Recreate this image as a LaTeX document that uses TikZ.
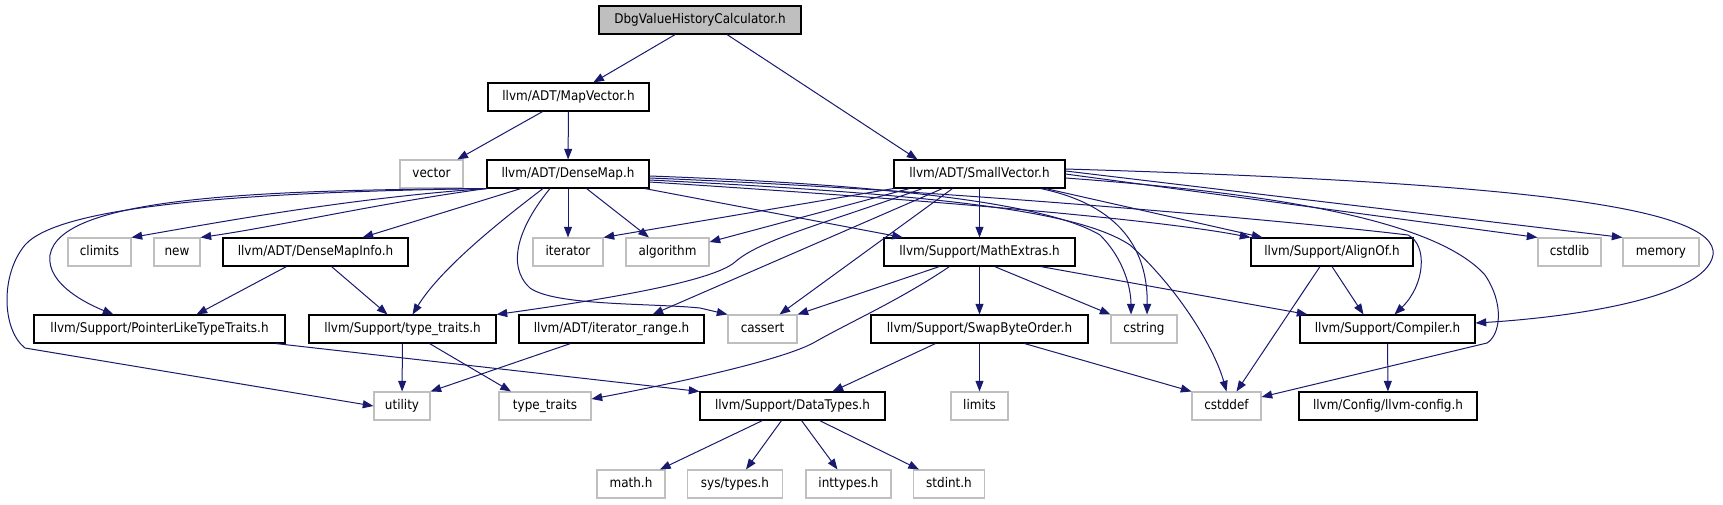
\documentclass[tikz,border=0pt]{standalone}
\usepackage{fontspec}
\setmainfont{DejaVu Sans}
\newfontfamily\graphfont[FakeStretch=0.9]{DejaVu Sans}
\usetikzlibrary{arrows.meta,calc}
\definecolor{edgeblue}{HTML}{191970}
\definecolor{boxgray}{HTML}{BFBFBF}
\tikzset{
  hdr/.style={draw=black, line width=0.8pt, fill=white, rectangle, inner sep=0pt,
    minimum height=21pt, text height=7.5pt, text depth=2.2pt,
    font=\graphfont\fontsize{10}{12}\selectfont},
  sys/.style={hdr, draw=boxgray},
  wd/.style={minimum width=#1*0.75pt},
  inc/.style={edgeblue, line width=0.75pt, -{Triangle[length=8pt,width=6pt]}},
}
\begin{document}
\begin{tikzpicture}[x=0.75pt, y=-0.75pt]
    \fill[white] (0,0) rectangle (1723,504);
    \useasboundingbox (0,0) rectangle (1723,504);

    % Headers, row by row
    \node[hdr, wd=202, fill=boxgray] (dbg) at (700,20) {DbgValueHistoryCalculator.h};
    \node[hdr, wd=161] (mapvec) at (568.5,97) {llvm/ADT/MapVector.h};
    \node[sys, wd=63]  (vector) at (431.5,174) {vector};
    \node[hdr, wd=162] (densemap) at (568,174) {llvm/ADT/DenseMap.h};
    \node[hdr, wd=171] (smallvec) at (979.5,174) {llvm/ADT/SmallVector.h};

    \node[sys, wd=63]  (climits) at (99.5,252) {climits};
    \node[sys, wd=46]  (new) at (177,252) {new};
    \node[hdr, wd=185] (dmapinfo) at (315.5,252) {llvm/ADT/DenseMapInfo.h};
    \node[sys, wd=70]  (iterator) at (568,252) {iterator};
    \node[sys, wd=83]  (algorithm) at (667.5,252) {algorithm};
    \node[hdr, wd=191] (mathext) at (979.5,252) {llvm/Support/MathExtras.h};
    \node[hdr, wd=162] (alignof) at (1332,252) {llvm/Support/AlignOf.h};
    \node[sys, wd=63]  (cstdlib) at (1569.5,252) {cstdlib};
    \node[sys, wd=76]  (memory) at (1661,252) {memory};

    \node[hdr, wd=251] (ptrlike) at (159.5,329) {llvm/Support/PointerLikeTypeTraits.h};
    \node[hdr, wd=187] (typetr) at (402.5,329) {llvm/Support/type\_traits.h};
    \node[hdr, wd=185] (itrange) at (611.5,329) {llvm/ADT/iterator\_range.h};
    \node[sys, wd=69]  (cassert) at (762.5,329) {cassert};
    \node[hdr, wd=217] (swapbyte) at (979.5,329) {llvm/Support/SwapByteOrder.h};
    \node[sys, wd=66]  (cstring) at (1144,329) {cstring};
    \node[hdr, wd=175] (compiler) at (1387.5,329) {llvm/Support/Compiler.h};

    \node[sys, wd=56]  (utility) at (402,406) {utility};
    \node[sys, wd=92]  (stdtypetr) at (545,406) {type\_traits};
    \node[hdr, wd=185] (datatypes) at (792.5,406) {llvm/Support/DataTypes.h};
    \node[sys, wd=57]  (limits) at (979.5,406) {limits};
    \node[sys, wd=69]  (cstddef) at (1226.5,406) {cstddef};
    \node[hdr, wd=178] (llvmconfig) at (1388,406) {llvm/Config/llvm-config.h};

    \node[sys, wd=68]  (math) at (631,484) {math.h};
    \node[sys, wd=95]  (systypes) at (735,484) {sys/types.h};
    \node[sys, wd=85]  (inttypes) at (848.5,484) {inttypes.h};
    \node[sys, wd=71]  (stdint) at (949,484) {stdint.h};

    % Top of the graph
    \draw[inc] (dbg) -- (mapvec);
    \draw[inc] ($(dbg.south)+(27,0)$) -- ($(smallvec.north)+(-62,0)$);
    \draw[inc] (mapvec) -- (vector);
    \draw[inc] (mapvec) -- (densemap);

    % DenseMap.h
    \draw[inc] (densemap.south west) .. controls (350,198) and (220,222) .. (climits.north east);
    \draw[inc] (densemap.south west) .. controls (380,203) and (280,226) .. (new.north east);
    \draw[inc] (densemap) -- (dmapinfo);
    \draw[inc] (densemap) -- (iterator);
    \draw[inc] (densemap) -- (algorithm);
    \draw[inc] (densemap) -- (mathext);
    \draw[inc] ($(densemap.south)+(-25,0)$) .. controls (495,225) and (440,270) .. ($(typetr.north)+(10,0)$);
    \draw[inc] ($(densemap.south)+(-18,0)$) .. controls (520,225) and (505,265) .. (530,288)
        .. controls (555,306) and (650,303) .. (700,308) -- (cassert.north west);
    \draw[inc] (densemap.south west) .. controls (250,190) and (60,198) .. (50,255)
        .. controls (46,285) and (90,305) .. ($(ptrlike.north)+(-46,0)$);
    \draw[inc] (densemap.south west) .. controls (250,192) and (60,205) .. (25,245)
        .. controls (0,275) and (2,330) .. (25,348) -- (utility.west);
    \draw[inc] ($(densemap.east)+(0,8)$) .. controls (900,198) and (1150,218) .. (alignof.north west);
    \draw[inc] ($(densemap.east)+(0,4)$) .. controls (950,190) and (1300,222) .. (1408,235)
        .. controls (1428,245) and (1425,285) .. ($(compiler.north)+(7,0)$);
    \draw[inc] ($(densemap.east)+(0,2)$) .. controls (900,185) and (1050,205) .. (1100,235)
        .. controls (1125,260) and (1131,290) .. ($(cstring.north)+(-13,0)$);
    \draw[inc] ($(densemap.east)+(0,6)$) .. controls (950,195) and (1080,212) .. (1130,245)
        .. controls (1180,290) and (1215,350) .. (cstddef.north);

    % SmallVector.h
    \draw[inc] (smallvec) -- (mathext);
    \draw[inc] (smallvec.south west) -- (iterator.north east);
    \draw[inc] ($(smallvec.south west)+(16,0)$) -- ($(algorithm.east)+(0,-10)$);
    \draw[inc] ($(smallvec.south west)+(29,0)$) .. controls (820,225) and (760,240) .. (735,262)
        .. controls (712,282) and (600,300) .. (typetr.north east);
    \draw[inc] ($(smallvec.south)+(-37,0)$) -- ($(itrange.north)+(41,0)$);
    \draw[inc] ($(smallvec.south)+(-27,0)$) -- ($(cassert.north)+(17,0)$);
    \draw[inc] ($(smallvec.south east)+(-25,0)$) .. controls (1120,205) and (1148,250) .. ($(cstring.north)+(3,0)$);
    \draw[inc] ($(smallvec.south east)+(-20,0)$) -- ($(alignof.north west)+(12,0)$);
    \draw[inc] (smallvec.east) -- (cstdlib.north west);
    \draw[inc] ($(smallvec.east)+(0,-3)$) -- (memory.north west);
    \draw[inc] ($(smallvec.east)+(0,-5)$) .. controls (1500,182) and (1720,205) .. (1713,255)
        .. controls (1705,300) and (1560,318) .. ($(compiler.east)+(0,-6)$);
    \draw[inc] ($(smallvec.east)+(0,4)$) .. controls (1300,195) and (1440,225) .. (1485,275)
        .. controls (1505,305) and (1500,335) .. (1487,343) -- ($(cstddef.east)+(0,-9)$);

    % MathExtras.h
    \draw[inc] (mathext) -- (swapbyte);
    \draw[inc] ($(mathext.south)+(-40,0)$) -- (cassert.north east);
    \draw[inc] ($(mathext.south)+(-30,0)$) .. controls (900,300) and (850,322) .. (815,342)
        .. controls (780,362) and (650,388) .. ($(stdtypetr.east)+(0,-7)$);
    \draw[inc] ($(mathext.south)+(15,0)$) -- (cstring.north west);
    \draw[inc] ($(mathext.south east)+(-35,0)$) -- ($(compiler.north west)+(8,0)$);

    % AlignOf.h
    \draw[inc] (alignof.south) -- ($(compiler.north)+(-24,0)$);
    \draw[inc] ($(alignof.south)+(-12,0)$) -- ($(cstddef.north)+(10,0)$);

    % Lower rows
    \draw[inc] ($(dmapinfo.south)+(-29,0)$) -- ($(ptrlike.north)+(37,0)$);
    \draw[inc] ($(dmapinfo.south)+(16,0)$) -- ($(typetr.north)+(-15,0)$);
    \draw[inc] ($(ptrlike.south east)+(-10,0)$) -- (datatypes.north west);
    \draw[inc] (typetr) -- (utility);
    \draw[inc] ($(typetr.south)+(27,0)$) -- ($(stdtypetr.north)+(-34,0)$);
    \draw[inc] ($(itrange.south)+(-41,0)$) -- (utility.north east);
    \draw[inc] ($(swapbyte.south)+(-44,0)$) -- ($(datatypes.north)+(40,0)$);
    \draw[inc] (swapbyte) -- (limits);
    \draw[inc] ($(swapbyte.south)+(45,0)$) -- (cstddef.north west);
    \draw[inc] (compiler) -- (llvmconfig);
    \draw[inc] ($(datatypes.south)+(-30,0)$) -- ($(math.north)+(29,0)$);
    \draw[inc] ($(datatypes.south)+(-11,0)$) -- ($(systypes.north)+(11,0)$);
    \draw[inc] ($(datatypes.south)+(9,0)$) -- ($(inttypes.north)+(-11,0)$);
    \draw[inc] ($(datatypes.south)+(27,0)$) -- ($(stdint.north)+(-30,0)$);
\end{tikzpicture}
\end{document}
